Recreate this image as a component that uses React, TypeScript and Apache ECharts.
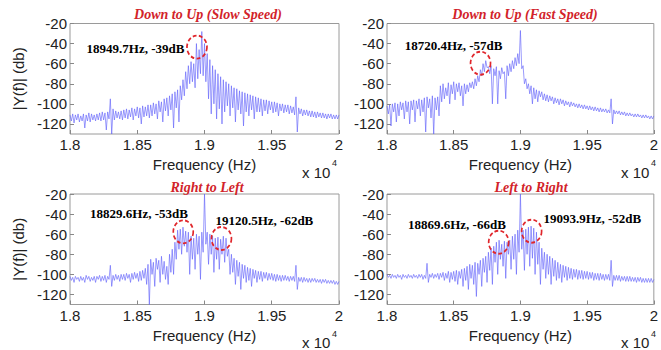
import React, { useEffect, useRef } from "react";
import * as echarts from "echarts";

// Frequency axis (units of 10^4 Hz); spectra sampled every 0.002 (20 Hz)
const FREQ_START = 1.8;
const FREQ_STEP = 0.002;
const X_TICKS = [1.8, 1.85, 1.9, 1.95, 2];
const Y_TICKS = [-120, -100, -80, -60, -40, -20];

const TITLES = [
  "Down to Up (Slow Speed)",
  "Down to Up (Fast Speed)",
  "Right to Left",
  "Left to Right",
];

// Upper / lower edges of the noisy spectrum (dB)
const slowTop = [
  -111, -110, -111, -110, -112, -110, -111, -109, -110, -111,
  -110, -109, -108, -109, -108, -95, -105, -107, -108, -107,
  -106, -105, -106, -104, -105, -103, -104, -102, -103, -101,
  -101, -99, -100, -97, -98, -95, -94, -92, -90, -88,
  -86, -82, -76, -68, -62, -58, -60, -40, -46, -28,
  -40, -50, -56, -62, -66, -70, -73, -76, -78, -80,
  -82, -84, -85, -87, -88, -89, -90, -91, -92, -93,
  -94, -95, -96, -96, -97, -98, -98, -99, -100, -100,
  -101, -101, -102, -103, -93, -104, -105, -106, -106, -107,
  -107, -108, -108, -109, -109, -110, -110, -110, -111, -111, -111,
];
const slowBottom = [
  -117, -119, -116, -118, -117, -124, -117, -118, -116, -117,
  -116, -117, -116, -126, -115, -130, -116, -114, -115, -116,
  -114, -115, -113, -116, -112, -114, -120, -113, -112, -114,
  -112, -110, -115, -108, -118, -107, -112, -106, -124, -104,
  -118, -96, -92, -85, -80, -78, -84, -75, -70, -72,
  -78, -95, -110, -100, -115, -105, -120, -108, -102, -112,
  -104, -118, -106, -110, -122, -108, -112, -106, -115, -108,
  -108, -112, -107, -110, -106, -109, -108, -112, -107, -109,
  -108, -110, -109, -111, -128, -110, -112, -111, -112, -113,
  -113, -114, -113, -114, -114, -115, -114, -115, -115, -115, -115,
];

const fastTop = [
  -102, -101, -100, -99, -100, -98, -99, -97, -98, -97,
  -96, -97, -95, -96, -94, -93, -95, -92, -94, -93,
  -82, -80, -84, -79, -81, -78, -80, -79, -82, -80,
  -81, -79, -78, -75, -72, -66, -60, -57, -63, -62,
  -65, -63, -67, -64, -68, -62, -60, -57, -54, -50,
  -27, -62, -75, -80, -82, -84, -86, -87, -88, -90,
  -91, -92, -93, -94, -95, -95, -96, -97, -98, -98,
  -99, -100, -100, -101, -101, -102, -102, -103, -103, -104,
  -104, -105, -105, -106, -95, -106, -107, -107, -108, -108,
  -109, -109, -110, -110, -110, -111, -111, -111, -112, -112, -112,
];
const fastBottom = [
  -110, -122, -108, -118, -112, -106, -115, -108, -120, -106,
  -118, -105, -112, -108, -128, -104, -114, -130, -106, -112,
  -98, -95, -92, -100, -90, -96, -88, -92, -102, -90,
  -88, -84, -85, -82, -78, -72, -68, -64, -70, -100,
  -72, -100, -75, -70, -95, -72, -68, -65, -62, -60,
  -65, -80, -85, -90, -100, -95, -98, -93, -96, -97,
  -98, -97, -100, -99, -101, -100, -102, -101, -103, -102,
  -103, -104, -104, -105, -105, -106, -106, -107, -107, -108,
  -108, -108, -109, -109, -120, -110, -110, -111, -111, -112,
  -112, -112, -113, -113, -113, -114, -114, -114, -115, -115, -115,
];

const rtlTop = [
  -102, -103, -102, -103, -102, -103, -101, -102, -103, -102,
  -102, -101, -102, -101, -102, -91, -101, -100, -101, -100,
  -100, -99, -100, -99, -98, -99, -97, -96, -94, -90,
  -85, -88, -84, -86, -82, -87, -92, -80, -75, -68,
  -56, -55, -53, -57, -58, -62, -64, -60, -62, -58,
  -20, -58, -60, -62, -64, -63, -65, -62, -64, -75,
  -80, -84, -86, -88, -90, -91, -93, -94, -95, -96,
  -97, -97, -98, -98, -99, -99, -100, -100, -101, -101,
  -101, -102, -102, -102, -91, -103, -103, -103, -104, -104,
  -104, -104, -105, -105, -105, -105, -106, -106, -106, -107, -107,
];
const rtlBottom = [
  -106, -108, -105, -107, -106, -108, -105, -107, -106, -108,
  -105, -107, -106, -108, -105, -112, -106, -105, -107, -105,
  -106, -104, -108, -105, -104, -107, -106, -104, -110, -130,
  -100, -112, -95, -108, -100, -105, -110, -98, -100, -85,
  -75, -80, -72, -78, -100, -85, -95, -80, -105, -78,
  -70, -90, -80, -98, -85, -95, -80, -88, -82, -100,
  -98, -110, -102, -115, -104, -108, -106, -112, -104, -108,
  -105, -107, -104, -106, -105, -106, -107, -106, -107, -106,
  -106, -107, -106, -107, -115, -107, -108, -107, -108, -108,
  -107, -108, -108, -109, -108, -109, -109, -109, -110, -110, -110,
];

const ltrTop = [
  -100, -101, -100, -101, -100, -101, -100, -101, -100, -101,
  -100, -101, -100, -100, -101, -89, -100, -99, -100, -99,
  -99, -98, -99, -97, -98, -97, -96, -97, -95, -94,
  -92, -90, -91, -88, -89, -86, -84, -82, -78, -74,
  -72, -68, -66, -70, -67, -68, -66, -62, -60, -56,
  -20, -56, -55, -53, -52, -54, -58, -68, -74, -78,
  -80, -82, -84, -86, -88, -90, -91, -92, -93, -94,
  -95, -95, -96, -96, -97, -97, -98, -98, -99, -99,
  -99, -100, -100, -100, -86, -101, -101, -101, -102, -102,
  -102, -102, -103, -103, -103, -103, -104, -104, -104, -104, -105,
];
const ltrBottom = [
  -103, -104, -103, -104, -103, -105, -103, -104, -103, -104,
  -103, -104, -103, -105, -104, -108, -103, -104, -103, -105,
  -103, -106, -104, -108, -105, -107, -110, -104, -112, -106,
  -115, -104, -110, -122, -100, -112, -98, -108, -96, -110,
  -88, -100, -85, -92, -104, -80, -95, -85, -100, -78,
  -75, -96, -80, -92, -84, -100, -90, -110, -95, -104,
  -100, -110, -102, -106, -104, -108, -103, -106, -104, -105,
  -103, -105, -104, -105, -104, -105, -104, -106, -105, -106,
  -105, -106, -105, -106, -112, -106, -106, -107, -106, -107,
  -107, -107, -107, -108, -107, -108, -108, -108, -108, -108, -108,
];

// Highlighted peaks (circle centre in [freq x1e4, dB]) and their annotation texts
const circles = [
  [[1.8944, -43.5]],
  [[1.8701, -59.5]],
  [[1.8842, -57.7], [1.9126, -64.3]],
  [[1.8837, -68], [1.9084, -57]],
];
const notes = [
  [{ value: [1.8487, -44.5], name: "18949.7Hz, -39dB" }],
  [{ value: [1.8499, -41.5], name: "18720.4Hz, -57dB" }],
  [
    { value: [1.8513, -39.3], name: "18829.6Hz, -53dB" },
    { value: [1.9445, -46], name: "19120.5Hz, -62dB" },
  ],
  [
    { value: [1.8524, -50.3], name: "18869.6Hz, -66dB" },
    { value: [1.9539, -44.3], name: "19093.9Hz, -52dB" },
  ],
];

const SPECTRA = [
  [slowTop, slowBottom],
  [fastTop, fastBottom],
  [rtlTop, rtlBottom],
  [ltrTop, ltrBottom],
];

function zigzag(top: number[], bottom: number[]) {
  const out: number[][] = [];
  top.forEach((t, i) => {
    const f = FREQ_START + i * FREQ_STEP;
    out.push([f, t]);
    const fb = f + FREQ_STEP / 2;
    if (fb <= 2.0000001) out.push([fb, bottom[i]]);
  });
  return out;
}

const SANS = "'Liberation Sans', Arial, sans-serif";
const SERIF = "'Liberation Serif', 'Times New Roman', serif";

const GRIDS = [
  { left: 70, top: 23.5, width: 269, height: 110.5 },
  { left: 387, top: 23.5, width: 270, height: 110.5 },
  { left: 70, top: 194, width: 269, height: 110.5 },
  { left: 387, top: 194, width: 270, height: 110.5 },
];

export default function App() {
  const ref = useRef<HTMLDivElement>(null);
  useEffect(() => {
    if (!ref.current) return;
    const chart = echarts.init(ref.current, null, { renderer: "svg" });
    const idx = [0, 1, 2, 3];
    const option: any = {
      animation: false,
      backgroundColor: "#ffffff",
      grid: GRIDS.map((g) => ({
        ...g,
        show: true,
        borderColor: "#9a9a9a",
        borderWidth: 1,
        backgroundColor: "#ffffff",
      })),
      xAxis: idx.map((i) => ({
        gridIndex: i,
        type: "value",
        min: 1.8,
        max: 2.0,
        axisLine: { show: false },
        splitLine: { show: false },
        axisTick: {
          show: true,
          inside: true,
          length: 4,
          customValues: X_TICKS,
          lineStyle: { color: "#888" },
        },
        axisLabel: {
          customValues: X_TICKS,
          formatter: (v: number) => String(Number(v.toFixed(2))),
          fontSize: 15,
          fontFamily: SANS,
          color: "#222",
          margin: 3,
        },
        name: "Frequency (Hz)",
        nameLocation: "middle",
        nameGap: 23,
        nameTextStyle: { fontSize: 15, fontFamily: SANS, color: "#222" },
      })),
      yAxis: idx.map((i) => ({
        gridIndex: i,
        type: "value",
        min: -130,
        max: -20,
        axisLine: { show: false },
        splitLine: { show: false },
        axisTick: {
          show: true,
          inside: true,
          length: 4,
          customValues: Y_TICKS,
          lineStyle: { color: "#888" },
        },
        axisLabel: {
          customValues: Y_TICKS,
          fontSize: 15,
          fontFamily: SANS,
          color: "#222",
          margin: 3,
        },
        name: i % 2 === 0 ? "|Y(f)| (db)" : "",
        nameLocation: "middle",
        nameGap: 44,
        nameTextStyle: { fontSize: 15, fontFamily: SANS, color: "#222" },
      })),
      series: [
        ...idx.map((i) => ({
          type: "line",
          xAxisIndex: i,
          yAxisIndex: i,
          data: zigzag(SPECTRA[i][0], SPECTRA[i][1]),
          showSymbol: false,
          symbol: "none",
          lineStyle: { color: "rgba(100,100,250,0.72)", width: 0.9 },
          clip: true,
          z: 2,
        })),
        ...idx.map((i) => ({
          type: "scatter",
          xAxisIndex: i,
          yAxisIndex: i,
          data: circles[i],
          symbol: "circle",
          symbolSize: [20, 23],
          itemStyle: {
            color: "rgba(0,0,0,0)",
            borderColor: "#e0262b",
            borderWidth: 1.8,
            borderType: [4, 2.5],
            opacity: 1,
          },
          z: 3,
        })),
        ...idx.map((i) => ({
          type: "scatter",
          xAxisIndex: i,
          yAxisIndex: i,
          data: notes[i],
          symbolSize: 0,
          itemStyle: { opacity: 1, color: "#000" },
          label: {
            show: true,
            position: "inside",
            align: "center",
            verticalAlign: "middle",
            formatter: (p: any) => p.name,
            fontFamily: SERIF,
            fontWeight: "bold",
            fontSize: 13,
            color: "#000",
            textBorderWidth: 0,
            opacity: 1,
          },
          z: 4,
        })),
      ],
      graphic: [
        ...TITLES.map((t, i) => ({
          type: "text",
          x: [208, 525, 207, 531][i],
          y: [14, 14, 187, 187][i],
          style: {
            text: t,
            fill: "#d2232a",
            font: `italic bold 14px ${SERIF}`,
            textAlign: "center",
            textVerticalAlign: "middle",
          },
        })),
        ...idx.map((i) => ({
          type: "text",
          x: [302, 621, 302, 621][i],
          y: [172, 172, 342.5, 342.5][i],
          style: {
            text: "x 10",
            fill: "#222",
            font: `15px ${SANS}`,
            textAlign: "left",
            textVerticalAlign: "middle",
          },
        })),
        ...idx.map((i) => ({
          type: "text",
          x: [332, 651, 332, 651][i],
          y: [163, 163, 333.5, 333.5][i],
          style: {
            text: "4",
            fill: "#222",
            font: `9px ${SANS}`,
            textAlign: "left",
            textVerticalAlign: "middle",
          },
        })),
      ],
    };
    chart.setOption(option);
    return () => chart.dispose();
  }, []);
  return (
    <div
      ref={ref}
      style={{ position: "fixed", left: 0, top: 0, width: 661, height: 350, background: "#fff" }}
    />
  );
}
